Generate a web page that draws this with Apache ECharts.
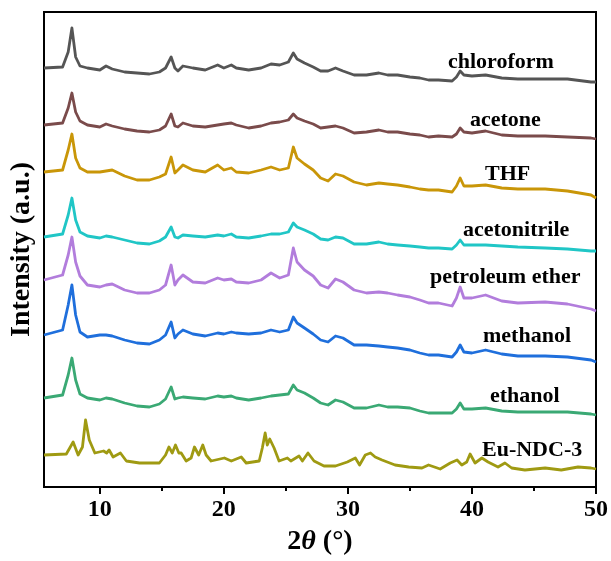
<!DOCTYPE html>
<html>
<head>
<meta charset="utf-8">
<script src="https://cdn.jsdelivr.net/npm/echarts@6/dist/echarts.min.js"></script>
<style>
  html, body { margin: 0; padding: 0; background: #fff; }
  #xrdChart { width: 611px; height: 561px; }
</style>
</head>
<body>
<div id="xrdChart"></div>
<script>
  // 2theta grid shared by the solvent-soaked samples
  const twoTheta = [5.5, 7.0, 7.45, 7.75, 8.05, 8.4, 9.0, 10.0, 10.5, 11.0, 12.0, 13.0, 14.0, 14.8, 15.3, 15.75, 16.05, 16.3, 16.7, 17.5,
    18.5, 19.5, 20.0, 20.6, 21.0, 22.0, 23.0, 23.8, 24.5, 25.2, 25.6, 25.9, 26.5, 27.2, 27.8, 28.4, 29.0, 29.6, 30.5, 31.5,
    32.5, 33.2, 34.0, 35.0, 35.8, 36.5, 37.3, 38.4, 38.75, 39.05, 39.35, 40.0, 41.1, 42.4, 43.7, 45.9, 47.7, 49.6, 50.0];

  // intensities (a.u., curves already offset)
  const chloroform = [419, 420, 435, 459, 430, 421, 419, 417, 421, 418, 415, 414, 413, 415, 419, 430, 419, 416, 421, 419,
    417, 422, 419, 422, 419, 417, 419, 423, 422, 425, 434, 428, 424, 420, 416, 416, 419, 416, 412, 412,
    414, 412, 412, 410, 409, 407, 407, 406, 410, 416, 412, 411, 412, 409, 408, 408, 408, 405, 405];
  const acetone = [362, 364, 379, 394, 375, 366, 362, 360, 363, 361, 358, 356, 355, 357, 361, 373, 361, 360, 364, 361,
    360, 362, 363, 364, 362, 359, 361, 364, 365, 367, 373, 369, 366, 363, 359, 360, 361, 359, 354, 355,
    357, 355, 355, 353, 352, 350, 351, 350, 353, 359, 355, 354, 356, 352, 351, 351, 350, 349, 348];
  const thf = [315, 317, 337, 353, 329, 319, 315, 315, 316, 317, 311, 307, 307, 310, 313, 330, 314, 317, 322, 317,
    315, 322, 317, 319, 315, 314, 317, 320, 317, 319, 340, 329, 323, 317, 309, 306, 313, 311, 305, 302,
    304, 303, 302, 300, 298, 297, 297, 295, 301, 309, 301, 301, 302, 299, 298, 298, 296, 292, 289];
  const acetonitrile = [250, 253, 272, 289, 267, 255, 251, 249, 251, 250, 247, 244, 243, 246, 250, 260, 250, 249, 252, 251,
    250, 252, 251, 253, 250, 249, 251, 253, 253, 255, 264, 260, 257, 253, 248, 247, 250, 249, 243, 243,
    245, 243, 242, 241, 240, 239, 239, 238, 242, 247, 242, 242, 242, 241, 240, 239, 238, 236, 236];
  const petroleumEther = [207, 212, 232, 250, 225, 211, 202, 200, 202, 203, 197, 194, 194, 197, 202, 222, 202, 207, 212, 205,
    204, 209, 207, 208, 205, 204, 207, 214, 209, 212, 239, 225, 217, 211, 202, 199, 208, 205, 197, 194,
    195, 194, 192, 190, 187, 184, 184, 181, 189, 200, 189, 189, 192, 186, 184, 185, 183, 178, 176];
  const methanol = [152, 157, 182, 202, 172, 155, 150, 152, 152, 151, 147, 144, 143, 147, 152, 165, 149, 153, 157, 153,
    151, 154, 153, 155, 154, 153, 154, 157, 155, 157, 170, 164, 159, 153, 147, 145, 151, 149, 142, 142,
    141, 140, 139, 137, 134, 132, 132, 130, 135, 142, 135, 134, 137, 133, 131, 131, 130, 127, 125];
  const ethanol = [89, 92, 112, 129, 107, 93, 89, 87, 89, 88, 84, 81, 80, 83, 88, 100, 88, 89, 90, 89,
    88, 91, 90, 91, 89, 87, 89, 91, 92, 93, 102, 97, 94, 89, 84, 82, 87, 85, 79, 79,
    82, 80, 80, 79, 76, 74, 74, 74, 78, 84, 78, 78, 79, 76, 75, 75, 75, 73, 72];

  // as-synthesised Eu-NDC-3 has its own sharper peaks
  const euTheta = [5.5, 7.3, 7.85, 8.25, 8.6, 8.85, 9.15, 9.6, 10.3, 10.55, 10.75, 11.07, 11.66, 12.14, 13.2, 14.8, 15.3, 15.57, 15.84, 16.1,
    16.37, 16.56, 16.96, 17.36, 17.63, 17.97, 18.3, 18.57, 18.97, 20.04, 20.6, 21.4, 21.8, 22.85, 23.1, 23.33, 23.5, 23.7, 24.05, 24.45,
    25.12, 25.4, 26.06, 26.33, 26.78, 27.27, 28.07, 29.0, 29.95, 30.6, 30.94, 31.4, 31.82, 32.2, 32.75, 33.8, 34.9, 35.97, 36.5, 37.44,
    38.25, 38.8, 39.18, 39.58, 39.85, 40.25, 40.8, 41.3, 42.1, 42.66, 43.2, 44.27, 45.9, 47.2, 48.55, 49.6, 50.0];
  const euNdc3 = [32, 33, 45, 32, 40, 67, 47, 34, 36, 34, 37, 30, 34, 26, 24, 24, 32, 40, 34, 42,
    34, 34, 26, 29, 40, 32, 42, 32, 26, 29, 26, 30, 24, 26, 39, 54, 42, 48, 39, 26,
    29, 26, 31, 26, 34, 26, 21, 21, 25, 29, 22, 32, 34, 30, 27, 22, 20, 19, 22, 18,
    24, 27, 22, 25, 33, 24, 29, 25, 20, 24, 19, 17, 19, 17, 20, 19, 18];

  const sampleNames = ['chloroform', 'acetone', 'THF', 'acetonitrile', 'petroleum ether', 'methanol', 'ethanol', 'Eu-NDC-3'];
  const xTicks = [10, 20, 30, 40, 50];
  const xMinorTicks = [15, 25, 35, 45];

  const serif = '"Liberation Serif", "Times New Roman", serif';
  const colors = ['#555555', '#7a4b4b', '#c99608', '#20c6c6', '#b27ddc', '#1f6fdc', '#3aa974', '#9f9a12'];
  const curves = [chloroform, acetone, thf, acetonitrile, petroleumEther, methanol, ethanol, euNdc3];

  const chart = echarts.init(document.getElementById('xrdChart'));

  const series = curves.map((vals, k) => {
    const xs = k === 7 ? euTheta : twoTheta;
    return {
      name: sampleNames[k],
      type: 'line',
      xAxisIndex: 0,
      data: xs.map((x, i) => [x, vals[i]]),
      showSymbol: false,
      smooth: false,
      lineStyle: { color: colors[k], width: 2.8, join: 'round' },
      itemStyle: { color: colors[k] }
    };
  });

  // label placement (left x, middle y) in pixels
  const labelSpots = [[448, 62], [470, 120], [485, 174], [463, 230], [430, 277], [483, 336], [490, 396], [482, 450]];

  const option = {
    animation: false,
    backgroundColor: '#fff',
    grid: {
      left: 44, right: 14, top: 12, bottom: 74,
      show: true, borderColor: '#000', borderWidth: 2, backgroundColor: 'transparent'
    },
    xAxis: [
      {
        type: 'value', min: 5.5, max: 50,
        name: '2{i|θ} (°)',
        nameLocation: 'middle',
        nameGap: 41,
        nameTextStyle: {
          fontFamily: serif, fontSize: 28, fontWeight: 'bold', color: '#000',
          rich: { i: { fontFamily: serif, fontSize: 28, fontWeight: 'bold', fontStyle: 'italic', color: '#000' } }
        },
        axisLine: { show: true, lineStyle: { color: '#000', width: 2 } },
        axisTick: { show: true, customValues: xTicks, length: 7, lineStyle: { color: '#000', width: 2 } },
        axisLabel: {
          customValues: xTicks, margin: 11,
          fontFamily: serif, fontSize: 24, fontWeight: 'bold', color: '#000'
        },
        splitLine: { show: false }
      },
      {
        type: 'value', min: 5.5, max: 50, position: 'bottom',
        axisLine: { show: false },
        axisTick: { show: true, customValues: xMinorTicks, length: 4, lineStyle: { color: '#000', width: 2 } },
        axisLabel: { show: false },
        splitLine: { show: false }
      }
    ],
    yAxis: {
      type: 'value', min: 0, max: 475,
      name: 'Intensity (a.u.)',
      nameLocation: 'middle',
      nameRotate: 90,
      nameGap: 8,
      nameTextStyle: { fontFamily: serif, fontSize: 28, fontWeight: 'bold', color: '#000' },
      axisLine: { show: true, lineStyle: { color: '#000', width: 2 } },
      axisTick: { show: false },
      axisLabel: { show: false },
      splitLine: { show: false }
    },
    graphic: sampleNames.map((name, k) => ({
      type: 'text',
      x: labelSpots[k][0],
      y: labelSpots[k][1],
      style: {
        text: name,
        fill: '#000',
        font: 'bold 22px ' + serif,
        verticalAlign: 'middle'
      }
    })),
    series: series
  };

  chart.setOption(option);
  window.addEventListener('resize', () => { chart.resize(); });
</script>
</body>
</html>
